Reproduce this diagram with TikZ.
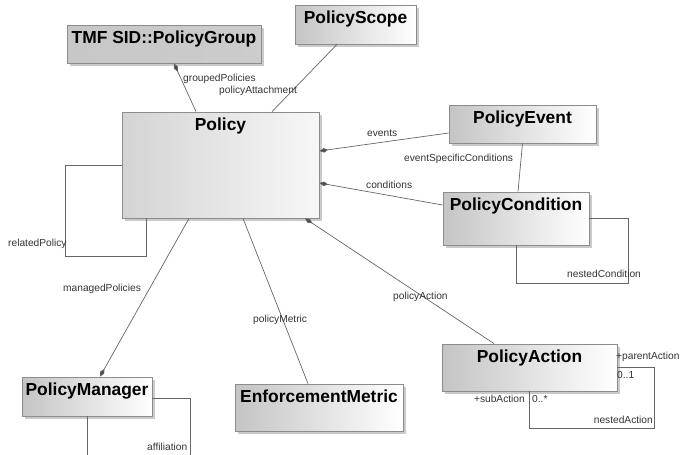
\documentclass[tikz,border=0pt]{standalone}
\usepackage{fontspec}
\setmainfont{Liberation Sans}
\usetikzlibrary{arrows.meta,shadows}

\tikzset{
	cls/.style={draw=black!45, line width=0.8pt, left color=black!23, right color=white, drop shadow={shadow xshift=2.5pt, shadow yshift=-2.5pt, opacity=0.35, fill=black!60}, inner sep=0pt},
	ttl/.style={anchor=north, inner ysep=6.5pt, inner xsep=0pt, font=\fontsize{17.4}{20}\selectfont\bfseries},
	lbl/.style={anchor=west, inner sep=0pt, text=black!80, font=\fontsize{10.2}{12}\selectfont},
	conn/.style={draw=black!60, line width=0.7pt},
	comp/.style={-{Diamond[length=9pt, width=4.5pt, fill=black!70]}}
}

\begin{document}
\begin{tikzpicture}[x=1pt, y=-1pt]
	\useasboundingbox (0,0) rectangle (683,455);
	\clip (0,0) rectangle (683,455);
	\node[cls, left color=black!22, right color=black!20, minimum width=194, minimum height=38, label={[ttl]north:TMF SID::PolicyGroup}] (grp) at (164,44) {};
	\node[cls, minimum width=121, minimum height=39, label={[ttl]north:PolicyScope}] (scope) at (355.5,24.5) {};
	\node[cls, left color=black!17, right color=black!3, minimum width=197, minimum height=106, label={[ttl]north:Policy}] (policy) at (220.5,165) {};
	\node[cls, minimum width=147, minimum height=38, label={[ttl]north:PolicyEvent}] (event) at (522.5,124) {};
	\node[cls, minimum width=146, minimum height=53, label={[ttl]north:PolicyCondition}] (cond) at (516,218.5) {};
	\node[cls, minimum width=175, minimum height=47, label={[ttl]north:PolicyAction}] (action) at (529.5,367.5) {};
	\node[cls, minimum width=130, minimum height=39, label={[ttl]north:PolicyManager}] (mgr) at (87,396.5) {};
	\node[cls, minimum width=168, minimum height=47, label={[ttl]north:EnforcementMetric}] (metric) at (319,407.5) {};

	\draw[conn, comp] ([xshift=-24.5pt]policy.north) -- ([xshift=10pt]grp.south);
	\draw[conn] ([xshift=51.5pt]policy.north) -- ([xshift=-18.5pt]scope.south);
	\draw[conn, comp] ([yshift=-9pt]event.west) -- ([yshift=14pt]policy.east);
	\draw[conn, comp] ([yshift=13.5pt]cond.west) -- ([yshift=-18pt]policy.east);
	\draw[conn] (event.south) -- ([xshift=2pt]cond.north);
	\draw[conn] (cond.east) -- ++(39,0) |- ([yshift=-38pt]cond.south) -- (cond.south);
	\draw[conn] (policy.west) -- ++(-56,0) |- ([xshift=-74.5pt,yshift=-38pt]policy.south) -- ([xshift=-74.5pt]policy.south);
	\draw[conn, comp] ([xshift=-31.5pt]policy.south) -- ([xshift=13pt]mgr.north);
	\draw[conn] ([xshift=22.5pt]policy.south) -- ([xshift=-11pt]metric.north);
	\draw[conn, comp] ([xshift=-35.5pt]action.north) -- ([xshift=84.5pt]policy.south);
	\draw[conn] (action.east) -- ++(37,0) |- ([yshift=-37pt]action.south) -- (action.south);
	\draw[conn] ([yshift=-1.5pt]mgr.east) -- ++(38,0) |- ([yshift=-60pt]mgr.south) -- (mgr.south);

	\node[lbl] (l1) at (183,79) {groupedPolicies};
	\node[lbl] (l2) at (219,91) {policyAttachment};
	\node[lbl] (l3) at (367,133) {events};
	\node[lbl] (l4) at (404,159) {eventSpecificConditions};
	\node[lbl] (l5) at (366,185) {conditions};
	\node[lbl] (l6) at (567,274) {nestedCondition};
	\node[lbl] (l7) at (8,244) {relatedPolicy};
	\node[lbl] (l8) at (63,289) {managedPolicies};
	\node[lbl] (l9) at (253,320) {policyMetric};
	\node[lbl] (l10) at (393,297) {policyAction};
	\node[lbl] (l11) at (616,357) {+parentAction};
	\node[lbl] (l12) at (617,375) {0..1};
	\node[lbl, anchor=east] (l13) at (525,399) {+subAction};
	\node[lbl] (l14) at (532,399) {0..*};
	\node[lbl, anchor=east] (l15) at (653,420) {nestedAction};
	\node[lbl] (l16) at (147,447) {affiliation};
\end{tikzpicture}
\end{document}
